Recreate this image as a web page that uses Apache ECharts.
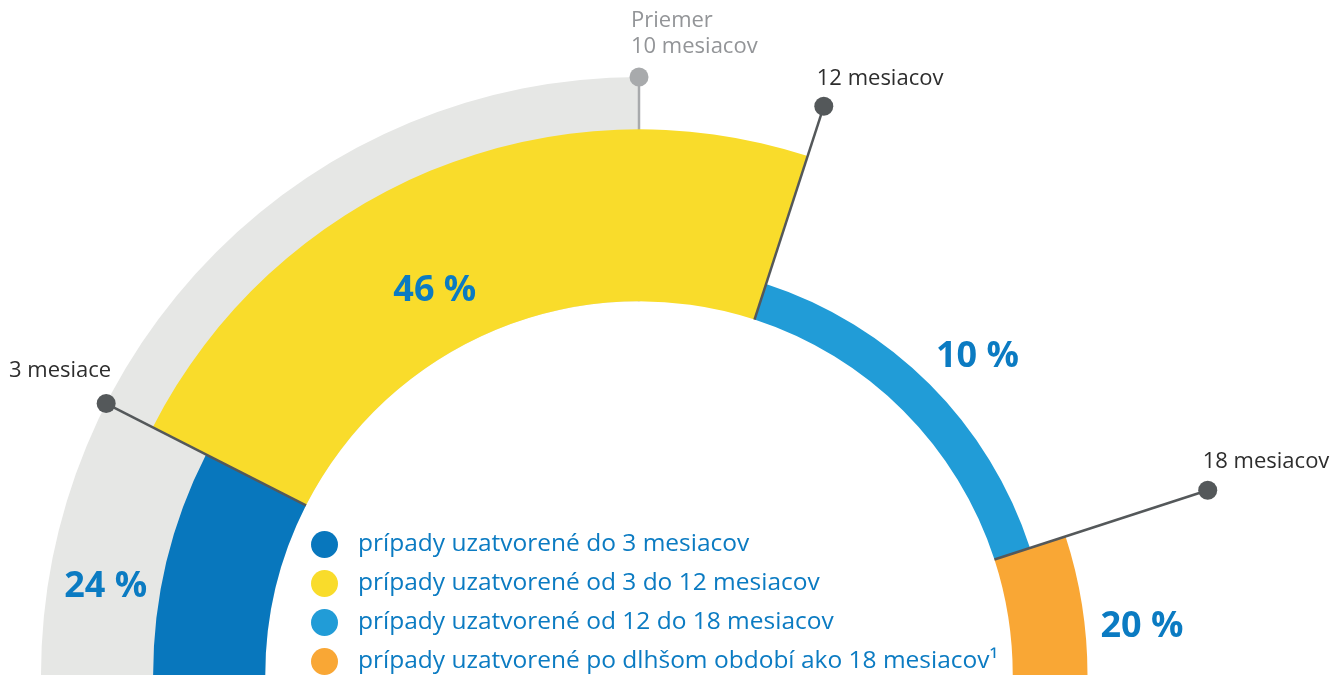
<!DOCTYPE html>
<html>
<head>
<meta charset="utf-8">
<title>Dĺžka konaní</title>
<script src="https://cdn.jsdelivr.net/npm/echarts@6/dist/echarts.min.js"></script>
<style>
  html, body { margin: 0; padding: 0; background: #fff; }
  #chart { width: 1333px; height: 677px; }
</style>
</head>
<body>
<div id="chart"></div>
<script>
// hranice intervalov v mesiacoch (polkruh = 0 az 20 mesiacov)
var bounds = [0, 3, 12, 18, 20];
var categories = [
  "prípady uzatvorené do 3 mesiacov",
  "prípady uzatvorené od 3 do 12 mesiacov",
  "prípady uzatvorené od 12 do 18 mesiacov",
  "prípady uzatvorené po dlhšom období ako 18 mesiacov¹"
];
var shares = [24, 46, 10, 20];
// hrubka pasu odcitana z obrazka (jednotky radiusAxis)
var depth = [30, 46, 10, 20];
var markMonths = [3, 12, 18];
var markLabels = ["3 mesiace", "12 mesiacov", "18 mesiacov"];
var avgMonths = 10;
var avgLabel = "Priemer\n10 mesiacov";

var FONT = "'Open Sans', 'Noto Sans', sans-serif";
var BASE = 100; // vnutorny okraj prstenca
var TOP = 160;  // vonkajsi okraj siveho pozadia
var colors = ["#0877bd", "#f9dc2b", "#219cd7", "#f9a735"];
var textBlue = "#0b7bc2";
// poloha percent [mesiac, polomer]
var pctAnchor = [[1.04, 144.6], [6.89, 116.4], [15.2, 124.2], [19.39, 135.2]];
var markText = [
  { align: "right", dx: 5, dy: -33 },
  { align: "left", dx: -7, dy: -28 },
  { align: "left", dx: -5, dy: -28 }
];

var chart = echarts.init(document.getElementById("chart"));

function sector(params, api, fill) {
  var cs = params.coordSys;
  var a = api.coord([api.value(2), api.value(0)]);
  var b = api.coord([api.value(3), api.value(1)]);
  return {
    type: "sector",
    shape: {
      cx: cs.cx, cy: cs.cy, r0: a[2], r: b[2],
      startAngle: -a[3], endAngle: -b[3], clockwise: true
    },
    style: { fill: fill }
  };
}

function makeSegment(i) {
  return {
    type: "custom",
    name: categories[i],
    coordinateSystem: "polar",
    z: 3,
    silent: true,
    itemStyle: { color: colors[i] },
    encode: { angle: [0, 1], radius: [2, 3] },
    data: [[bounds[i], bounds[i + 1], BASE, BASE + depth[i], shares[i]]],
    renderItem: function (params, api) {
      var t = api.coord([pctAnchor[i][1], pctAnchor[i][0]]);
      return {
        type: "group",
        children: [
          sector(params, api, colors[i]),
          {
            type: "text", x: t[0], y: t[1],
            style: {
              text: api.value(4) + " %", fill: textBlue,
              fontSize: 36, fontWeight: "bold", fontFamily: FONT,
              align: "center", verticalAlign: "middle"
            }
          }
        ]
      };
    }
  };
}

var series = [];

// sive pozadie po priemer
series.push({
  type: "custom",
  coordinateSystem: "polar",
  z: 1,
  silent: true,
  encode: { angle: [0, 1], radius: [2, 3] },
  data: [[0, avgMonths, BASE, TOP]],
  renderItem: function (params, api) {
    return sector(params, api, "#e6e7e5");
  }
});

// priemer
series.push({
  type: "custom",
  coordinateSystem: "polar",
  z: 2,
  silent: true,
  encode: { angle: 0, radius: [1, 2] },
  data: [[avgMonths, BASE, TOP]],
  renderItem: function (params, api) {
    var p0 = api.coord([api.value(1), api.value(0)]);
    var p1 = api.coord([api.value(2), api.value(0)]);
    return {
      type: "group",
      children: [
        { type: "line", shape: { x1: p0[0], y1: p0[1], x2: p1[0], y2: p1[1] },
          style: { stroke: "#a8aaac", lineWidth: 2.5 } },
        { type: "circle", shape: { cx: p1[0], cy: p1[1], r: 9.5 },
          style: { fill: "#a8aaac" } },
        { type: "text", x: p1[0] - 8, y: p1[1] - 17,
          style: { text: avgLabel, fill: "#939598", fontSize: 22, lineHeight: 26,
                   fontFamily: FONT, align: "left", verticalAlign: "bottom" } }
      ]
    };
  }
});

for (var i = 0; i < shares.length; i++) {
  series.push(makeSegment(i));
}

// hranice intervalov
series.push({
  type: "custom",
  coordinateSystem: "polar",
  z: 4,
  silent: true,
  encode: { angle: 0, radius: [1, 2] },
  data: markMonths.map(function (m) { return [m, BASE, TOP]; }),
  renderItem: function (params, api) {
    var p0 = api.coord([api.value(1), api.value(0)]);
    var p1 = api.coord([api.value(2), api.value(0)]);
    var s = markText[params.dataIndex];
    return {
      type: "group",
      children: [
        { type: "line", shape: { x1: p0[0], y1: p0[1], x2: p1[0], y2: p1[1] },
          style: { stroke: "#54585a", lineWidth: 2.5 } },
        { type: "circle", shape: { cx: p1[0], cy: p1[1], r: 9.5 },
          style: { fill: "#54585a" } },
        { type: "text", x: p1[0] + s.dx, y: p1[1] + s.dy,
          style: { text: markLabels[params.dataIndex], fill: "#2d2d2d", fontSize: 22,
                   fontFamily: FONT, align: s.align, verticalAlign: "middle" } }
      ]
    };
  }
});

var option = {
  animation: false,
  backgroundColor: "#fff",
  polar: { center: [639, 675], radius: 598 },
  angleAxis: {
    type: "value", min: 0, max: 40, startAngle: 180, clockwise: true,
    show: false, axisLine: { show: false }, axisLabel: { show: false },
    axisTick: { show: false }, splitLine: { show: false }
  },
  radiusAxis: {
    type: "value", min: 0, max: TOP,
    show: false, axisLine: { show: false }, axisLabel: { show: false },
    axisTick: { show: false }, splitLine: { show: false }
  },
  legend: {
    orient: "vertical",
    left: 311,
    top: 531,
    padding: 0,
    itemWidth: 27,
    itemHeight: 27,
    itemGap: 12,
    icon: "circle",
    selectedMode: false,
    textStyle: { color: textBlue, fontSize: 24.5, fontFamily: FONT, padding: [0, 0, 0, 15] },
    data: categories
  },
  series: series
};

chart.setOption(option);
</script>
</body>
</html>
